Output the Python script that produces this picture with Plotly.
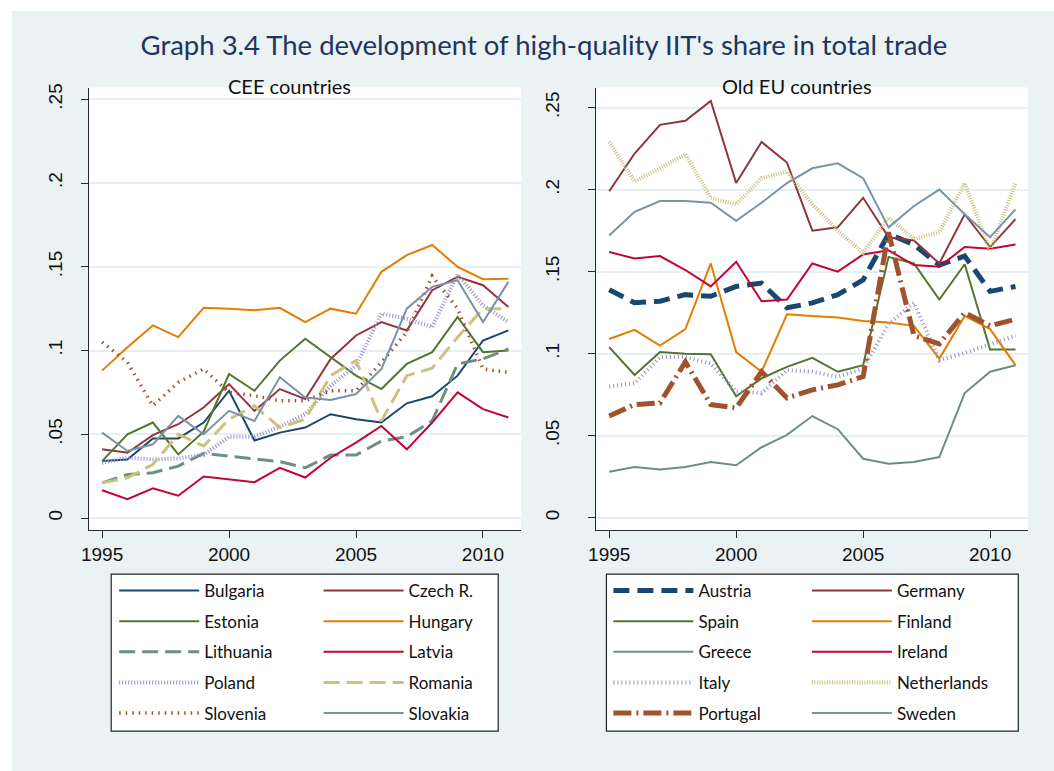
import plotly.graph_objects as go

W, H = 1054, 771
years = list(range(1995, 2012))

# CEE countries
bulgaria = [0.034, 0.035, 0.0475, 0.0475, 0.057, 0.076, 0.0463, 0.051, 0.054, 0.062, 0.059, 0.057, 0.0685, 0.0727, 0.085, 0.106, 0.112]
czech = [0.041, 0.039, 0.0495, 0.056, 0.066, 0.080, 0.064, 0.077, 0.071, 0.095, 0.109, 0.117, 0.112, 0.136, 0.144, 0.139, 0.126]
estonia = [0.034, 0.050, 0.057, 0.038, 0.0515, 0.086, 0.076, 0.094, 0.107, 0.096, 0.085, 0.077, 0.092, 0.099, 0.120, 0.099, 0.100]
hungary = [0.088, 0.102, 0.115, 0.108, 0.1255, 0.125, 0.124, 0.1255, 0.117, 0.125, 0.122, 0.147, 0.157, 0.163, 0.150, 0.1426, 0.1428]
lithuania = [0.021, 0.026, 0.027, 0.031, 0.0386, 0.037, 0.0356, 0.0337, 0.030, 0.0376, 0.0376, 0.046, 0.0485, 0.058, 0.092, 0.095, 0.101]
latvia = [0.0166, 0.0113, 0.0178, 0.0133, 0.0248, 0.0232, 0.0214, 0.030, 0.0242, 0.036, 0.045, 0.055, 0.041, 0.057, 0.075, 0.065, 0.060]
poland = [0.033, 0.036, 0.035, 0.0356, 0.0376, 0.0485, 0.0485, 0.0545, 0.062, 0.079, 0.091, 0.122, 0.119, 0.114, 0.1455, 0.127, 0.117]
romania = [0.021, 0.024, 0.032, 0.050, 0.043, 0.059, 0.067, 0.054, 0.059, 0.085, 0.094, 0.058, 0.085, 0.0895, 0.108, 0.125, 0.125]
slovenia = [0.105, 0.093, 0.067, 0.081, 0.089, 0.075, 0.073, 0.070, 0.070, 0.076, 0.076, 0.093, 0.111, 0.1445, 0.125, 0.089, 0.087]
slovakia = [0.051, 0.040, 0.044, 0.061, 0.050, 0.064, 0.058, 0.084, 0.072, 0.0705, 0.074, 0.089, 0.125, 0.138, 0.142, 0.117, 0.141]

# Old EU countries
austria = [0.139, 0.131, 0.132, 0.136, 0.135, 0.141, 0.143, 0.128, 0.131, 0.136, 0.145, 0.173, 0.1665, 0.154, 0.1595, 0.138, 0.141]
germany = [0.199, 0.222, 0.2395, 0.242, 0.254, 0.204, 0.229, 0.2165, 0.175, 0.177, 0.195, 0.171, 0.169, 0.155, 0.185, 0.165, 0.182]
spain = [0.104, 0.087, 0.101, 0.100, 0.0997, 0.074, 0.085, 0.092, 0.0975, 0.089, 0.093, 0.159, 0.155, 0.133, 0.1545, 0.1026, 0.1026]
finland = [0.109, 0.1145, 0.105, 0.115, 0.155, 0.101, 0.089, 0.124, 0.123, 0.122, 0.120, 0.119, 0.117, 0.097, 0.123, 0.115, 0.093]
greece = [0.028, 0.031, 0.0295, 0.031, 0.034, 0.032, 0.043, 0.0505, 0.062, 0.054, 0.036, 0.033, 0.034, 0.037, 0.076, 0.089, 0.093]
ireland = [0.162, 0.158, 0.1595, 0.151, 0.141, 0.156, 0.132, 0.133, 0.155, 0.150, 0.1605, 0.163, 0.154, 0.153, 0.165, 0.164, 0.1665]
italy = [0.080, 0.082, 0.098, 0.098, 0.094, 0.077, 0.076, 0.090, 0.089, 0.086, 0.091, 0.118, 0.131, 0.096, 0.1005, 0.106, 0.111]
netherlands = [0.229, 0.205, 0.213, 0.2216, 0.195, 0.191, 0.207, 0.211, 0.191, 0.175, 0.1615, 0.183, 0.170, 0.174, 0.204, 0.1625, 0.204]
portugal = [0.062, 0.069, 0.070, 0.095, 0.069, 0.067, 0.089, 0.073, 0.078, 0.081, 0.086, 0.174, 0.111, 0.106, 0.125, 0.117, 0.121]
sweden = [0.172, 0.1865, 0.193, 0.193, 0.192, 0.181, 0.192, 0.204, 0.213, 0.216, 0.207, 0.177, 0.190, 0.200, 0.185, 0.171, 0.188]

y_tickvals = [0, 0.05, 0.1, 0.15, 0.2, 0.25]
y_ticktext = ["0", ".05", ".1", ".15", ".2", ".25"]
x_tickvals = [1995, 2000, 2005, 2010]

NAVY, MAROON, GREEN, ORANGE = "#1a476f", "#90353b", "#55752f", "#e37e00"
TEAL, CRAN, LAV, KHAKI, SIENNA, EMID = "#6e8e84", "#c10534", "#938dd2", "#cac27e", "#a0522d", "#7b92a8"

# (name, values, color, width, dash, legend)
cee_series = [
    ("Bulgaria", bulgaria, NAVY, 2, "solid", "legend"),
    ("Czech R.", czech, MAROON, 2, "solid", "legend2"),
    ("Estonia", estonia, GREEN, 2, "solid", "legend"),
    ("Hungary", hungary, ORANGE, 2, "solid", "legend2"),
    ("Lithuania", lithuania, TEAL, 3, "16px,7px", "legend"),
    ("Latvia", latvia, CRAN, 2, "solid", "legend2"),
    ("Poland", poland, LAV, 4, "1px,2px", "legend"),
    ("Romania", romania, KHAKI, 3, "16px,7px", "legend2"),
    ("Slovenia", slovenia, SIENNA, 3.5, "1.5px,5px", "legend"),
    ("Slovakia", slovakia, EMID, 2, "solid", "legend2"),
]
eu_series = [
    ("Austria", austria, NAVY, 5, "16px,8px", "legend3"),
    ("Germany", germany, MAROON, 2, "solid", "legend4"),
    ("Spain", spain, GREEN, 2, "solid", "legend3"),
    ("Finland", finland, ORANGE, 2, "solid", "legend4"),
    ("Greece", greece, TEAL, 2, "solid", "legend3"),
    ("Ireland", ireland, CRAN, 2, "solid", "legend4"),
    ("Italy", italy, LAV, 4, "1px,3px", "legend3"),
    ("Netherlands", netherlands, KHAKI, 4, "1px,1.5px", "legend4"),
    ("Portugal", portugal, SIENNA, 5, "18px,5px,2px,5px", "legend3"),
    ("Sweden", sweden, EMID, 2, "solid", "legend4"),
]

fig = go.Figure()
for name, vals, col, w, dash, leg in cee_series:
    fig.add_trace(go.Scatter(x=years, y=vals, name=name, mode="lines",
                             line=dict(color=col, width=w, dash=dash),
                             xaxis="x", yaxis="y", legend=leg, legendgroup=name))
for name, vals, col, w, dash, leg in eu_series:
    fig.add_trace(go.Scatter(x=years, y=vals, name=name, mode="lines",
                             line=dict(color=col, width=w, dash=dash),
                             xaxis="x2", yaxis="y2", legend=leg, legendgroup=name))


def px(x):
    return x / W


def py(y):
    return 1 - y / H


TICKFONT = dict(family="Liberation Sans, Arial", size=19, color="#111111")
GRID = "#e6eff1"
AXC = "#2a2a2a"

axis_common_x = dict(range=[1994.5, 2011.5], tickvals=x_tickvals, showgrid=False, zeroline=False,
                     showline=True, linecolor=AXC, linewidth=1.3, ticks="outside", ticklen=7,
                     tickcolor=AXC, tickwidth=1.3, tickfont=TICKFONT)
axis_common_y = dict(tickvals=y_tickvals, ticktext=y_ticktext, showgrid=True, gridcolor=GRID,
                     gridwidth=1.5, zeroline=False, showline=True, linecolor=AXC, linewidth=1.3,
                     ticks="outside", ticklen=7, tickcolor=AXC, tickwidth=1.3, tickfont=TICKFONT,
                     tickangle=-90)

LEGFONT = dict(family="Lato, Open Sans, sans-serif", size=17, color="#111111")


def leg(xpix):
    return dict(x=px(xpix), y=py(572), xanchor="left", yanchor="top", orientation="v",
                bgcolor="rgba(0,0,0,0)", borderwidth=0, font=LEGFONT, itemwidth=80,
                tracegroupgap=5.5)


BG = "#eaf2f3"
shapes = [
    dict(type="rect", xref="paper", yref="paper", x0=px(4), x1=1, y0=0, y1=py(7),
         fillcolor=BG, line=dict(width=0), layer="below"),
    dict(type="rect", xref="paper", yref="paper", x0=px(82), x1=px(517), y0=py(529), y1=py(84),
         fillcolor="white", line=dict(width=0), layer="below"),
    dict(type="rect", xref="paper", yref="paper", x0=px(593), x1=px(1028), y0=py(529), y1=py(84),
         fillcolor="white", line=dict(width=0), layer="below"),
    dict(type="rect", xref="paper", yref="paper", x0=px(104), x1=px(494), y0=py(731), y1=py(573),
         fillcolor="white", line=dict(width=1.2, color="#222222"), layer="below"),
    dict(type="rect", xref="paper", yref="paper", x0=px(603), x1=px(1018), y0=py(731), y1=py(573),
         fillcolor="white", line=dict(width=1.2, color="#222222"), layer="below"),
]

SUBFONT = dict(family="Lato, Open Sans, sans-serif", size=20, color="#111111")

fig.update_layout(
    width=W, height=H, margin=dict(l=0, r=0, t=0, b=0),
    paper_bgcolor="white", plot_bgcolor="white",
    title=dict(text="Graph 3.4 The development of high-quality IIT's share in total trade",
               x=px(540), xref="paper", xanchor="center", y=py(42), yref="paper", yanchor="middle",
               font=dict(family="Lato, Open Sans, sans-serif", size=27.5, color="#1f3560")),
    xaxis=dict(domain=[px(82), px(517)], anchor="y", **axis_common_x),
    yaxis=dict(domain=[py(529), py(84)], anchor="x", range=[-0.0073, 0.257],
               ticklabelstandoff=12, **axis_common_y),
    xaxis2=dict(domain=[px(593), px(1028)], anchor="y2", **axis_common_x),
    yaxis2=dict(domain=[py(529), py(84)], anchor="x2", range=[-0.0076, 0.2622],
               ticklabelstandoff=22, **axis_common_y),
    legend=leg(107), legend2=leg(313), legend3=leg(605), legend4=leg(805),
    shapes=shapes,
    annotations=[
        dict(text="CEE countries", x=px(284), y=py(82), xref="paper", yref="paper",
             showarrow=False, xanchor="center", yanchor="middle", font=SUBFONT),
        dict(text="Old EU countries", x=px(795), y=py(82), xref="paper", yref="paper",
             showarrow=False, xanchor="center", yanchor="middle", font=SUBFONT),
    ],
    showlegend=True,
)

fig.write_html("out.html", config={"displayModeBar": False},
               post_script="document.body.style.margin='0';")
